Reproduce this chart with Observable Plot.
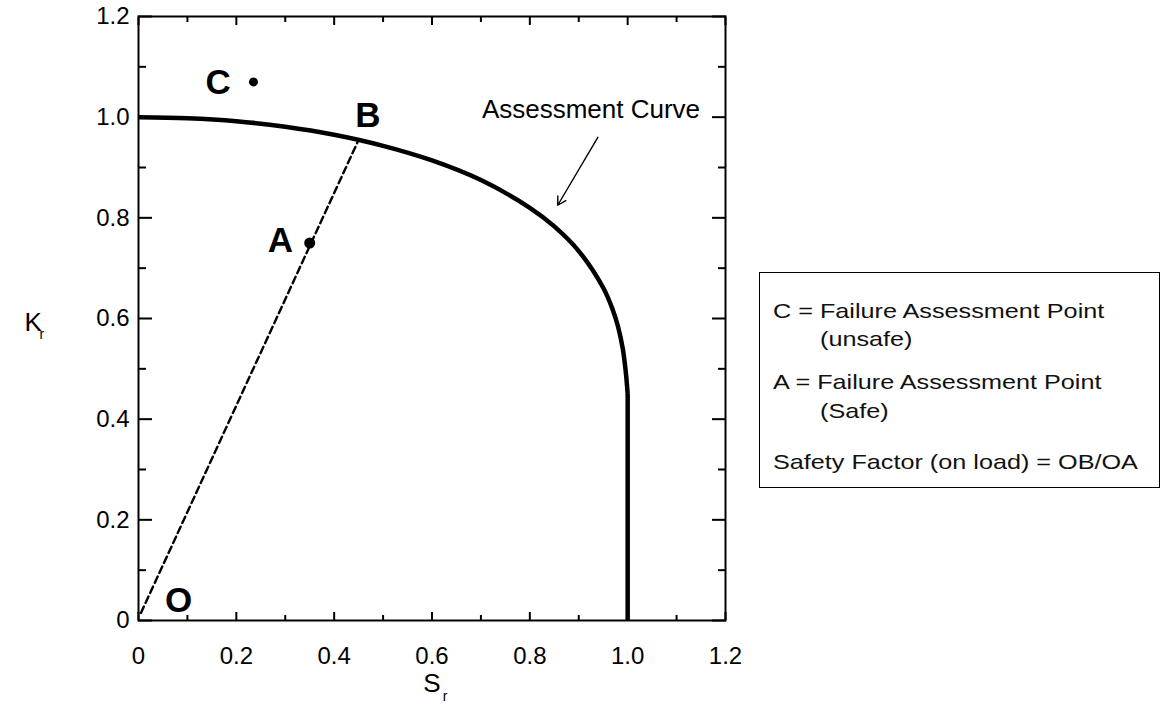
<!DOCTYPE html>
<html>
<head>
<meta charset="utf-8">
<script src="https://cdn.jsdelivr.net/npm/d3@7"></script>
<script src="https://cdn.jsdelivr.net/npm/@observablehq/plot@0.6"></script>
<style>
  body { margin: 0; background: #fff; font-family: Arial, "Liberation Sans", sans-serif; }
  #wrap { position: relative; width: 1162px; height: 706px; overflow: hidden; background: #fff; }
  #chart { position: absolute; left: 0; top: 0; }
  #key {
    position: absolute; left: 759px; top: 272px; width: 401px; height: 216px;
    box-sizing: border-box; border: 1.5px solid #000; color: #111;
    font-size: 21px;
  }
  #key div {
    position: absolute; white-space: nowrap; line-height: 1;
    transform-origin: 0 50%; transform: translateY(-50%) scaleX(1.2);
  }
</style>
</head>
<body>
<div id="wrap">
  <div id="chart"></div>
  <div id="key"></div>
</div>
<script>
// Axis ticks (Sr on x, Kr on y)
const xMajor = [0, 0.2, 0.4, 0.6, 0.8, 1.0, 1.2];
const xMinor = [0.1, 0.3, 0.5, 0.7, 0.9, 1.1];
const yMajor = [0, 0.2, 0.4, 0.6, 0.8, 1.0, 1.2];
const yMinor = [0.1, 0.3, 0.5, 0.7, 0.9, 1.1];
const xTickLabels = ["0", "0.2", "0.4", "0.6", "0.8", "1.0", "1.2"];
const yTickLabels = ["0", "0.2", "0.4", "0.6", "0.8", "1.0", "1.2"];

// Failure assessment curve, read along Sr (smooth part, then the cut-off at Sr = 1)
const curveSr = [0, 0.1, 0.2, 0.3, 0.4, 0.5, 0.6, 0.7, 0.8, 0.85, 0.9, 0.95, 0.97, 0.98, 0.99, 0.996, 1.0];
const curveKr = [1.0, 0.998, 0.992, 0.981, 0.965, 0.943, 0.914, 0.875, 0.820, 0.783, 0.734, 0.661, 0.616, 0.585, 0.540, 0.495, 0.45];
const cutoffSr = [1.0, 1.0];
const cutoffKr = [0.45, 0];

// Load line O -> B
const loadSr = [0.005, 0.45];
const loadKr = [0.015, 0.955];

// Assessment points
const pointNames = ["C", "A"];
const pointSr = [0.235, 0.35];
const pointKr = [1.07, 0.75];
const pointRadius = [4.5, 5.5];

// Letter labels
const letterNames = ["C", "B", "A", "O"];
const letterSr = [0.163, 0.469, 0.29, 0.082];
const letterKr = [1.068, 1.003, 0.755, 0.04];

// Callout for the curve
const calloutText = ["Assessment Curve"];
const calloutSr = [0.702];
const calloutKr = [1.015];
const arrowFrom = [0.939, 0.96];
const arrowTo = [0.857, 0.825];

// Key lines
const keyLines = [
  "C = Failure Assessment Point",
  "(unsafe)",
  "A = Failure Assessment Point",
  "(Safe)",
  "Safety Factor (on load) = OB/OA"
];

const curve = curveSr.map((s, i) => ({sr: s, kr: curveKr[i]}));
const cutoff = cutoffSr.map((s, i) => ({sr: s, kr: cutoffKr[i]}));
const load = loadSr.map((s, i) => ({sr: s, kr: loadKr[i]}));
const points = pointNames.map((n, i) => ({name: n, sr: pointSr[i], kr: pointKr[i], r: pointRadius[i]}));
const letters = letterNames.map((n, i) => ({name: n, sr: letterSr[i], kr: letterKr[i]}));
const callout = calloutText.map((t, i) => ({text: t, sr: calloutSr[i], kr: calloutKr[i]}));
const arrows = [{x1: arrowFrom[0], y1: arrowFrom[1], x2: arrowTo[0], y2: arrowTo[1]}];

const blank = () => "";
const fmtX = d => xTickLabels[xMajor.indexOf(d)];
const fmtY = d => yTickLabels[yMajor.indexOf(d)];

const chart = Plot.plot({
  width: 740,
  height: 706,
  marginLeft: 138,
  marginRight: 15,
  marginTop: 16,
  marginBottom: 86,
  x: {domain: [0, 1.2]},
  y: {domain: [0, 1.2]},
  r: {type: "identity"},
  style: {fontFamily: "Arial, 'Liberation Sans', sans-serif", color: "#000", background: "#fff", overflow: "visible"},
  marks: [
    // inward ticks on all four sides
    Plot.axisX(xMajor, {anchor: "bottom", tickSize: -8, strokeWidth: 2, tickFormat: blank, label: null}),
    Plot.axisX(xMinor, {anchor: "bottom", tickSize: -5, strokeWidth: 2, tickFormat: blank, label: null}),
    Plot.axisX(xMajor, {anchor: "top", tickSize: -8, strokeWidth: 2, tickFormat: blank, label: null}),
    Plot.axisX(xMinor, {anchor: "top", tickSize: -5, strokeWidth: 2, tickFormat: blank, label: null}),
    Plot.axisY(yMajor, {anchor: "left", tickSize: -14, strokeWidth: 2, tickFormat: blank, label: null}),
    Plot.axisY(yMinor, {anchor: "left", tickSize: -8, strokeWidth: 2, tickFormat: blank, label: null}),
    Plot.axisY(yMajor, {anchor: "right", tickSize: -14, strokeWidth: 2, tickFormat: blank, label: null}),
    Plot.axisY(yMinor, {anchor: "right", tickSize: -8, strokeWidth: 2, tickFormat: blank, label: null}),
    // tick labels
    Plot.axisX(xMajor, {anchor: "bottom", tickSize: 0, tickPadding: 26, fontSize: 24, tickFormat: fmtX, label: null}),
    Plot.axisY(yMajor, {anchor: "left", tickSize: 0, tickPadding: 9, fontSize: 24, tickFormat: fmtY, label: null}),
    Plot.frame({stroke: "#000", strokeWidth: 2}),
    // axis titles with subscripts
    Plot.text(["S"], {x: [0.6], frameAnchor: "bottom", dy: 71, fontSize: 26}),
    Plot.text(["r"], {x: [0.6], frameAnchor: "bottom", dx: 13, dy: 80, fontSize: 14}),
    Plot.text(["K"], {y: [0.592], frameAnchor: "left", dx: -114, fontSize: 26}),
    Plot.text(["r"], {y: [0.592], frameAnchor: "left", dx: -99, dy: 12, fontSize: 14}),
    // load line and assessment curve
    Plot.line(load, {x: "sr", y: "kr", stroke: "#000", strokeWidth: 2.4, strokeDasharray: "7,4"}),
    Plot.line(curve, {x: "sr", y: "kr", stroke: "#000", strokeWidth: 4.5, curve: "catmull-rom", strokeLinecap: "butt"}),
    Plot.line(cutoff, {x: "sr", y: "kr", stroke: "#000", strokeWidth: 4.5, strokeLinecap: "butt"}),
    Plot.dot(points, {x: "sr", y: "kr", r: "r", fill: "#000", stroke: null}),
    Plot.text(letters, {x: "sr", y: "kr", text: "name", fontSize: 35, fontWeight: "bold", fill: "#000"}),
    Plot.text(callout, {x: "sr", y: "kr", text: "text", textAnchor: "start", fontSize: 26, fill: "#000"}),
    Plot.arrow(arrows, {x1: "x1", y1: "y1", x2: "x2", y2: "y2", stroke: "#000", strokeWidth: 1.4, headLength: 10})
  ]
});
document.getElementById("chart").appendChild(chart);

// key box text, positioned line by line
const keyTop = [37, 65, 108, 137, 188];
const keyLeft = [13, 60, 13, 60, 13];
const key = document.getElementById("key");
keyLines.forEach((t, i) => {
  const d = document.createElement("div");
  d.textContent = t;
  d.style.top = keyTop[i] + "px";
  d.style.left = keyLeft[i] + "px";
  key.appendChild(d);
});
</script>
</body>
</html>
